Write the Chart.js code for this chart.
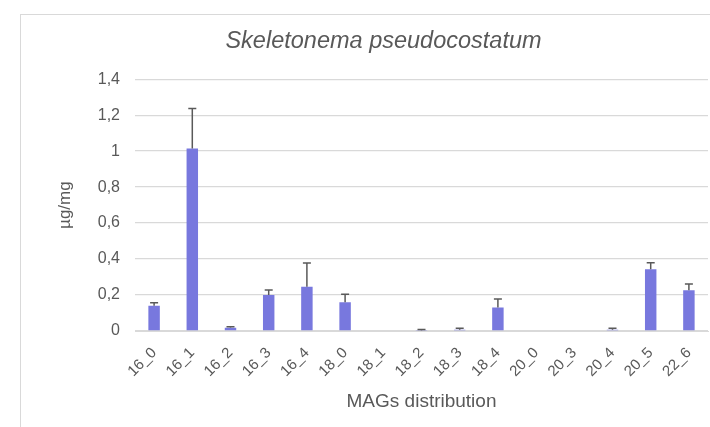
<!DOCTYPE html>
<html>
<head>
<meta charset="utf-8">
<script src="https://cdn.jsdelivr.net/npm/chart.js@4.4.0/dist/chart.umd.min.js"></script>
<style>
  html, body { margin: 0; padding: 0; background: #fff; overflow: hidden; }
  body { width: 710px; height: 427px; position: relative; }
  #frame { position: absolute; left: 20px; top: 14px; width: 760px; height: 440px; border: 1px solid #d9d9d9; }
  #wrap { position: absolute; left: 21px; top: 15px; width: 725px; height: 412px; }
</style>
</head>
<body>
<div id="frame"></div>
<div id="wrap"><canvas id="chart"></canvas></div>
<script>
// MAG categories and mean values (µg/mg) with error (upper) amounts
const categories = ['16_0', '16_1', '16_2', '16_3', '16_4', '18_0', '18_1', '18_2', '18_3', '18_4', '20_0', '20_3', '20_4', '20_5', '22_6'];
const values = [0.14, 1.015, 0.018, 0.20, 0.246, 0.16, 0, 0.003, 0.007, 0.13, 0, 0, 0.007, 0.343, 0.226];
const errors = [0.017, 0.222, 0.006, 0.028, 0.132, 0.044, 0, 0.006, 0.008, 0.048, 0, 0, 0.008, 0.037, 0.035];
const yTicks = [0, 0.2, 0.4, 0.6, 0.8, 1, 1.2, 1.4];

const textGray = '#595959';
const font = 'Liberation Sans, Arial, sans-serif';

// simple error bar plugin, draws upper whisker from each bar top
const errorBars = {
    id: 'errorBars',
    afterDatasetsDraw(chart) {
        const meta = chart.getDatasetMeta(0);
        const yScale = chart.scales.y;
        const ctx = chart.ctx;
        ctx.save();
        ctx.strokeStyle = textGray;
        ctx.lineWidth = 1.5;
        meta.data.forEach((bar, i) => {
            if (!errors[i]) return;
            const yTop = yScale.getPixelForValue(values[i] + errors[i]);
            const yBase = yScale.getPixelForValue(values[i]);
            ctx.beginPath();
            ctx.moveTo(bar.x, yBase);
            ctx.lineTo(bar.x, yTop);
            ctx.moveTo(bar.x - 4, yTop);
            ctx.lineTo(bar.x + 4, yTop);
            ctx.stroke();
        });
        ctx.restore();
    }
};

new Chart(document.getElementById('chart'), {
    type: 'bar',
    data: {
        labels: categories,
        datasets: [{
            data: values,
            backgroundColor: '#7878de',
            borderWidth: 0,
            categoryPercentage: 1,
            barPercentage: 0.3
        }]
    },
    plugins: [errorBars],
    options: {
        responsive: true,
        maintainAspectRatio: false,
        animation: false,
        layout: { padding: 0 },
        plugins: {
            legend: { display: false },
            tooltip: { enabled: false },
            title: {
                display: true,
                text: 'Skeletonema pseudocostatum',
                color: textGray,
                font: { family: font, size: 23.5, style: 'italic', weight: 'normal' },
                padding: { top: 12, bottom: 24 }
            }
        },
        scales: {
            x: {
                grid: { display: false },
                border: { color: '#d9d9d9' },
                ticks: {
                    color: textGray,
                    font: { family: font, size: 15 },
                    maxRotation: 45,
                    minRotation: 45,
                    padding: 5
                },
                title: {
                    display: true,
                    text: 'MAGs distribution',
                    color: textGray,
                    font: { family: font, size: 19 },
                    padding: { top: 0, bottom: 14 }
                },
                afterFit(scale) { scale.height = 96; }
            },
            y: {
                min: 0,
                max: 1.4,
                afterBuildTicks(scale) { scale.ticks = yTicks.map(v => ({ value: v })); },
                grid: { color: '#d9d9d9', lineWidth: 1.3, drawTicks: false },
                border: { display: false },
                ticks: {
                    color: textGray,
                    font: { family: font, size: 16 },
                    padding: 15,
                    callback: v => String(v).replace('.', ',')
                },
                title: {
                    display: true,
                    text: 'µg/mg',
                    color: textGray,
                    font: { family: font, size: 17 },
                    padding: { top: 34, bottom: 0 }
                },
                afterFit(scale) { scale.width = 114; }
            },
            // empty right-hand spacer so the title stays centred on the whole chart
            yRight: {
                position: 'right',
                display: true,
                grid: { display: false, drawTicks: false },
                border: { display: false },
                ticks: { display: false },
                afterFit(scale) { scale.width = 38; }
            }
        }
    }
});
</script>
</body>
</html>
